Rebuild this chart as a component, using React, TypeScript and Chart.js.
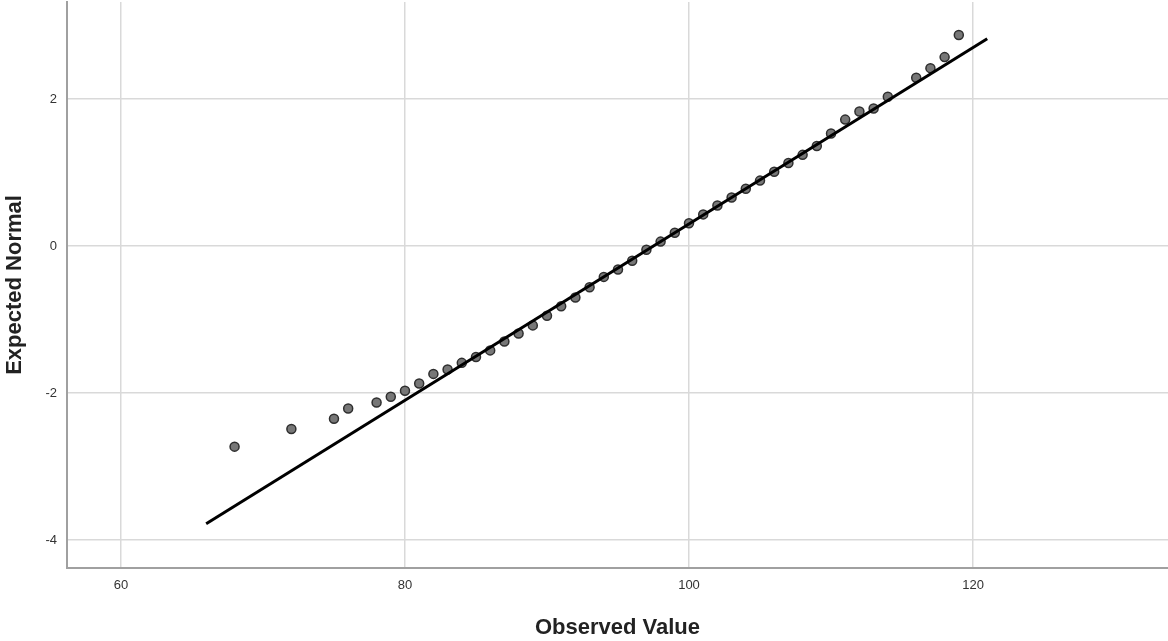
import React, { useEffect, useRef } from "react";
import { Chart, registerables } from "chart.js";

Chart.register(...registerables);

const observedValues = [68, 72, 75, 76, 78, 79, 80, 81, 82, 83, 84, 85, 86, 87, 88, 89, 90, 91, 92, 93, 94, 95, 96, 97, 98, 99, 100, 101, 102, 103, 104, 105, 106, 107, 108, 109, 110, 111, 112, 113, 114, 116, 117, 118, 119];
const expectedNormal = [-2.73, -2.49, -2.35, -2.21, -2.13, -2.05, -1.97, -1.87, -1.74, -1.68, -1.59, -1.51, -1.42, -1.30, -1.19, -1.08, -0.95, -0.82, -0.70, -0.56, -0.42, -0.32, -0.20, -0.05, 0.06, 0.18, 0.31, 0.43, 0.55, 0.66, 0.78, 0.89, 1.01, 1.13, 1.24, 1.36, 1.53, 1.72, 1.83, 1.87, 2.03, 2.29, 2.42, 2.57, 2.87];
const lineX = [66, 121];
const lineY = [-3.78, 2.82];
const xTicks = [60, 80, 100, 120];
const yTicks = [-4, -2, 0, 2];
const xTitle = "Observed Value";
const yTitle = "Expected Normal";

const zeroPad = (s: any) => {
  s.paddingLeft = 0;
  s.paddingRight = 0;
  s.paddingTop = 0;
  s.paddingBottom = 0;
};

export default function App() {
  const ref = useRef<HTMLCanvasElement | null>(null);
  useEffect(() => {
    document.body.style.margin = "0";
    const canvas = ref.current;
    if (!canvas) return;
    const chart = new Chart(canvas, {
      type: "scatter",
      data: {
        datasets: [
          {
            type: "scatter",
            data: observedValues.map((x, i) => ({ x, y: expectedNormal[i] })),
            backgroundColor: "#777777",
            borderColor: "#2e2e2e",
            borderWidth: 1.5,
            pointRadius: 4.5,
            order: 2,
          },
          {
            type: "line",
            data: lineX.map((x, i) => ({ x, y: lineY[i] })),
            borderColor: "#000000",
            borderWidth: 3,
            pointRadius: 0,
            fill: false,
            order: 1,
          } as any,
        ],
      },
      options: {
        responsive: false,
        animation: false,
        layout: { autoPadding: false, padding: { top: 2, right: 0, left: 0, bottom: 0 } },
        plugins: { legend: { display: false }, tooltip: { enabled: false } },
        scales: {
          x: {
            type: "linear",
            min: 56.2,
            max: 133.73,
            afterBuildTicks: (s: any) => {
              s.ticks = xTicks.map((v) => ({ value: v }));
            },
            afterFit: (s: any) => {
              s.height = 73;
              zeroPad(s);
            },
            grid: { color: "#d9d9d9", lineWidth: 1.5, drawTicks: false },
            border: { display: true, color: "#a0a0a0", width: 2 },
            ticks: {
              padding: 10,
              color: "#333333",
              font: { family: "Liberation Sans", size: 13 },
            },
            title: {
              display: true,
              text: xTitle,
              color: "#222222",
              font: { family: "Liberation Sans", size: 22, weight: "bold" },
              padding: { top: 2, bottom: 0 },
            },
          },
          y: {
            type: "linear",
            min: -4.381,
            max: 3.32,
            afterBuildTicks: (s: any) => {
              s.ticks = yTicks.map((v) => ({ value: v }));
            },
            afterFit: (s: any) => {
              s.width = 67;
              zeroPad(s);
            },
            grid: { color: "#d9d9d9", lineWidth: 1.5, drawTicks: false },
            border: { display: true, color: "#a0a0a0", width: 2 },
            ticks: {
              padding: 10,
              color: "#333333",
              font: { family: "Liberation Sans", size: 13 },
            },
            title: {
              display: true,
              text: yTitle,
              color: "#222222",
              font: { family: "Liberation Sans", size: 22, weight: "bold" },
              padding: { top: 2, bottom: 2 },
            },
          },
        },
      },
    });
    return () => chart.destroy();
  }, []);
  return (
    <div style={{ width: 1168, height: 641, background: "#fff" }}>
      <canvas ref={ref} width={1168} height={641} style={{ width: 1168, height: 641, display: "block" }} />
    </div>
  );
}
